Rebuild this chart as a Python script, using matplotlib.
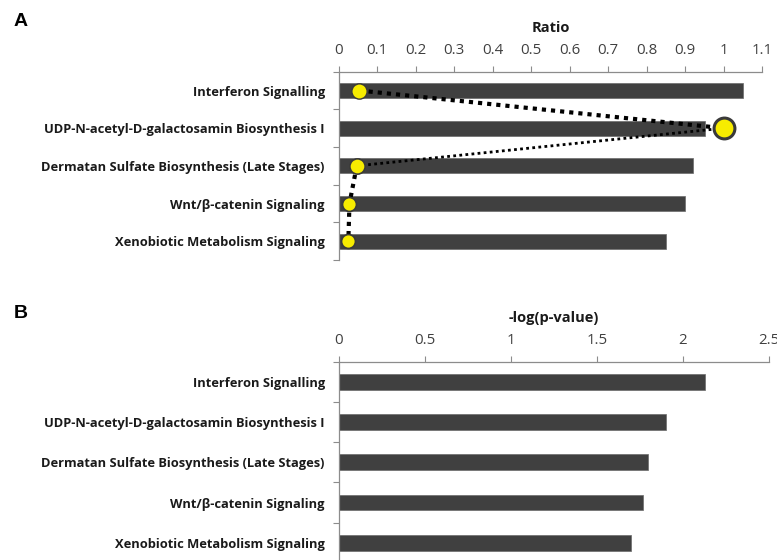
import matplotlib
matplotlib.use("Agg")
import matplotlib.pyplot as plt
import numpy as np

categories = [
    "Interferon Signalling",
    "UDP-N-acetyl-D-galactosamin Biosynthesis I",
    "Dermatan Sulfate Biosynthesis (Late Stages)",
    "Wnt/\u03b2-catenin Signaling",
    "Xenobiotic Metabolism Signaling",
]
bars_a = [1.051, 0.951, 0.920, 0.901, 0.850]
ratio = [0.054, 1.0, 0.047, 0.028, 0.025]
neglogp = [2.128, 1.901, 1.800, 1.769, 1.700]
ticks_a = [0, 0.1, 0.2, 0.3, 0.4, 0.5, 0.6, 0.7, 0.8, 0.9, 1, 1.1]
ticks_b = [0, 0.5, 1, 1.5, 2, 2.5]

W, H = 777, 560
fig = plt.figure(figsize=(W / 100, H / 100), dpi=100)

BAR = "#404040"
SPINE = "#8c8c8c"
TXT = "#404040"
LABEL_FONT = ["Open Sans", "DejaVu Sans"]


def make_axes(left, right, top, bottom):
    return fig.add_axes([left / W, 1 - bottom / H, (right - left) / W, (bottom - top) / H])


def style(ax, xmax, ticks, title, n):
    ax.set_xlim(0, xmax)
    ax.set_ylim(n - 0.5, -0.5)
    ax.xaxis.tick_top()
    ax.xaxis.set_label_position("top")
    ax.set_xticks(ticks)
    ax.set_xticklabels([("%g" % t) for t in ticks], fontsize=10.8, color=TXT,
                       family=LABEL_FONT)
    ax.tick_params(axis="x", length=4, width=0.8, color=SPINE, pad=6)
    ax.set_yticks(np.arange(n))
    ax.set_yticklabels(categories, fontsize=9.3, fontweight="bold", color="#1a1a1a",
                       family=LABEL_FONT)
    ax.tick_params(axis="y", length=0, pad=10)
    ax.set_yticks(np.arange(n + 1) - 0.5, minor=True)
    ax.tick_params(axis="y", which="minor", length=4, width=0.8, color=SPINE)
    for s in ["right", "bottom"]:
        ax.spines[s].set_visible(False)
    for s in ["left", "top"]:
        ax.spines[s].set_color(SPINE)
        ax.spines[s].set_linewidth(0.9)
    ax.set_xlabel(title, fontsize=10.5, fontweight="bold", color="#1a1a1a",
                  family=LABEL_FONT, labelpad=8)


n = len(categories)
y = np.arange(n)

# Panel A
axA = make_axes(338.7, 762, 71.7, 260)
axA.barh(y, bars_a, height=0.40, color=BAR, edgecolor="#6a6a6a", linewidth=0.5)
style(axA, 1.1, ticks_a, "Ratio", n)
seg_lw = [3.0, 2.0, 3.0, 3.0]
for i in range(n - 1):
    axA.plot(ratio[i:i + 2], y[i:i + 2], linestyle=(0, (1, 1.2)), color="black",
             lw=seg_lw[i], zorder=3)
sizes = [11, 15, 11, 10, 10]
edgew = [1.0, 2.2, 1.2, 1.2, 1.2]
for i in range(n):
    axA.plot(ratio[i], y[i], marker="o", ms=sizes[i], mfc="#f7ec00",
             mec="#3a3a3a", mew=edgew[i], zorder=4, clip_on=False)

# Panel B
axB = make_axes(338.7, 768.7, 361.7, 563)
axB.barh(y, neglogp, height=0.39, color=BAR, edgecolor="#6a6a6a", linewidth=0.5)
style(axB, 2.5, ticks_b, "-log(p-value)", n)

fig.text(14 / W, 1 - 22 / H, "A", fontsize=14, fontweight="bold", va="center",
         ha="left", family=["Liberation Sans", "DejaVu Sans"])
fig.text(14 / W, 1 - 314 / H, "B", fontsize=14, fontweight="bold", va="center",
         ha="left", family=["Liberation Sans", "DejaVu Sans"])

fig.savefig("out.png", dpi=100)
